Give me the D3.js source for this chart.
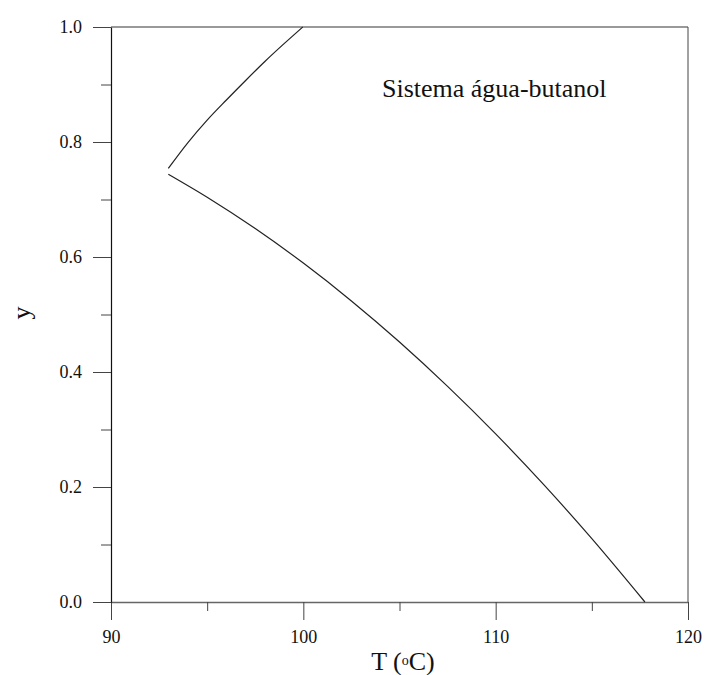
<!DOCTYPE html>
<html>
<head>
<meta charset="utf-8">
<script src="https://cdn.jsdelivr.net/npm/d3@7"></script>
<style>
  html, body { margin: 0; padding: 0; background: #fff; }
  svg { display: block; }
  svg text { font-family: "Liberation Serif", "Times New Roman", serif; fill: #111; }
</style>
</head>
<body>
<svg id="chart" width="707" height="675"></svg>
<script>
// Vapour composition y vs temperature, water–butanol system
// Water-rich branch (from the heteroazeotrope to pure water)
const tempWaterBranch = [92.98, 94.0, 95.0, 96.0, 97.0, 98.0, 99.0, 99.97];
const yWaterBranch    = [0.754, 0.799, 0.838, 0.873, 0.907, 0.940, 0.971, 1.000];

// Butanol-rich branch (from the heteroazeotrope to pure butanol)
const tempButanolBranch = [92.98, 95.0, 97.5, 100.0, 102.5, 105.0, 107.5, 110.0, 112.5, 115.0, 117.76];
const yButanolBranch    = [0.744, 0.704, 0.6495, 0.5894, 0.5236, 0.4521, 0.375, 0.2924, 0.2041, 0.1102, 0.000];

const xMajorTicks = [90, 100, 110, 120];
const xMinorTicks = [95, 105, 115];
const yMajorTicks = [0.0, 0.2, 0.4, 0.6, 0.8, 1.0];
const yMinorTicks = [0.1, 0.3, 0.5, 0.7, 0.9];

const serif = '"Liberation Serif", "Times New Roman", serif';
const svg = d3.select("#chart");
const margin = { left: 111, top: 27, right: 19, bottom: 73 };
const W = 707, H = 675;

const x = d3.scaleLinear().domain([90, 120]).range([margin.left, W - margin.right]);
const y = d3.scaleLinear().domain([0, 1]).range([H - margin.bottom, margin.top]);

// Frame (top and right edges)
svg.append("line").attr("x1", x(90)).attr("x2", x(120)).attr("y1", y(1)).attr("y2", y(1))
  .attr("stroke", "#777").attr("stroke-width", 1.5);
svg.append("line").attr("x1", x(120)).attr("x2", x(120)).attr("y1", y(1)).attr("y2", y(0))
  .attr("stroke", "#444").attr("stroke-width", 1);

// Bottom axis
const gx = svg.append("g").attr("transform", `translate(0,${y(0)})`)
  .call(d3.axisBottom(x).tickValues(xMajorTicks).tickSize(18).tickSizeOuter(0)
    .tickFormat(d3.format("d")));
gx.select(".domain").attr("stroke", "#666").attr("stroke-width", 1.5);
gx.selectAll(".tick line").attr("stroke", "#444");
gx.selectAll(".tick text").attr("dy", "0").attr("y", 41)
  .style("font-family", serif).style("font-size", "18px").style("fill", "#111");
const gxMinor = svg.append("g").attr("transform", `translate(0,${y(0)})`)
  .call(d3.axisBottom(x).tickValues(xMinorTicks).tickSize(9).tickFormat(""));
gxMinor.select(".domain").remove();
gxMinor.selectAll(".tick line").attr("stroke", "#444");

// Left axis
const gy = svg.append("g").attr("transform", `translate(${x(90)},0)`)
  .call(d3.axisLeft(y).tickValues(yMajorTicks).tickSize(18).tickSizeOuter(0)
    .tickFormat(d3.format(".1f")));
gy.select(".domain").attr("stroke", "#111").attr("stroke-width", 1.2);
gy.selectAll(".tick line").attr("stroke", "#444");
gy.selectAll(".tick text").attr("x", -29)
  .style("font-family", serif).style("font-size", "18px").style("fill", "#111");
const gyMinor = svg.append("g").attr("transform", `translate(${x(90)},0)`)
  .call(d3.axisLeft(y).tickValues(yMinorTicks).tickSize(10).tickFormat(""));
gyMinor.select(".domain").remove();
gyMinor.selectAll(".tick line").attr("stroke", "#444");

// Curves
const line = d3.line().x(d => x(d[0])).y(d => y(d[1])).curve(d3.curveMonotoneX);
const waterPts = tempWaterBranch.map((t, i) => [t, yWaterBranch[i]]);
const butanolPts = tempButanolBranch.map((t, i) => [t, yButanolBranch[i]]);
svg.append("path").datum(waterPts).attr("d", line)
  .attr("fill", "none").attr("stroke", "#222").attr("stroke-width", 1.2);
svg.append("path").datum(butanolPts).attr("d", line)
  .attr("fill", "none").attr("stroke", "#222").attr("stroke-width", 1.2);

// Annotation
svg.append("text").attr("x", 382).attr("y", 97).style("font-size", "26px")
  .text("Sistema água-butanol");

// Axis titles
const xt = svg.append("text").attr("x", 403).attr("y", 670).attr("text-anchor", "middle")
  .style("font-size", "26px");
xt.append("tspan").text("T (");
xt.append("tspan").style("font-size", "14px").attr("dy", -5).text("o");
xt.append("tspan").attr("dy", 5).text("C)");

svg.append("text").attr("transform", `translate(30,313) rotate(-90)`)
  .attr("text-anchor", "middle").style("font-size", "26px").text("y");
</script>
</body>
</html>
